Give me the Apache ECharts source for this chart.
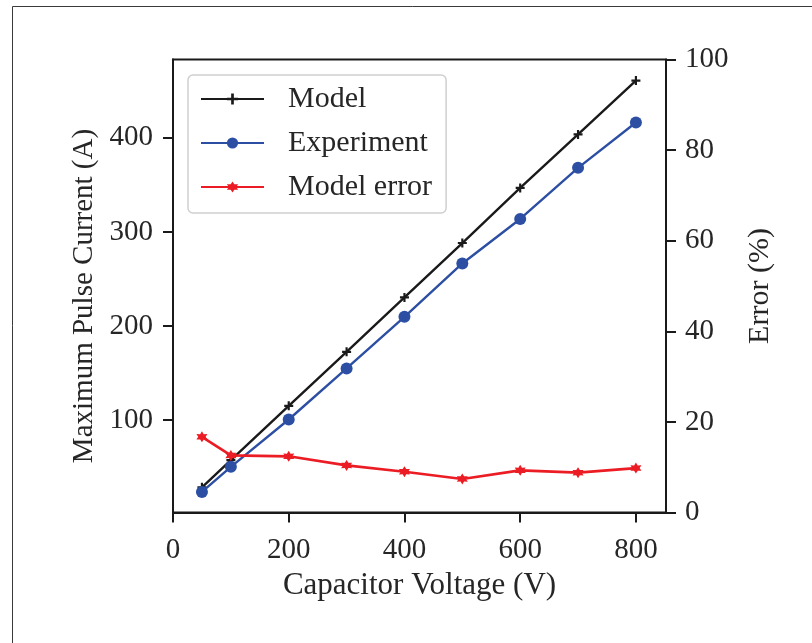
<!DOCTYPE html>
<html>
<head>
<meta charset="utf-8">
<script src="https://cdn.jsdelivr.net/npm/echarts@6/dist/echarts.min.js"></script>
<style>
  html, body { margin: 0; padding: 0; background: #ffffff; }
  #chart { width: 812px; height: 643px; }
</style>
</head>
<body>
<div id="chart"></div>
<script>
// Capacitor voltage (V) for each measurement
const voltage = [50, 100, 200, 300, 400, 500, 600, 700, 800];
// Maximum pulse current (A)
const modelCurrent = [28.6, 57.6, 115.2, 172.6, 230.4, 288.2, 346.8, 403.6, 460.8];
const experimentCurrent = [23.8, 50.4, 100.7, 155.0, 209.8, 266.5, 313.8, 368.1, 416.2];
// Relative model error (%)
const modelError = [16.7, 12.6, 12.4, 10.4, 9.0, 7.4, 9.3, 8.8, 9.8];

// Tick values
const xTicks = [0, 200, 400, 600, 800];
const currentTicks = [100, 200, 300, 400];

const pair = (xs, ys) => xs.map((x, i) => [x, ys[i]]);

const FONT = '"Liberation Serif", "DejaVu Serif", serif';
const INK = '#1a1a1a';
const TXT = '#262626';

const plusPath = 'path://M-1.2,-5H1.2V-1.2H5V1.2H1.2V5H-1.2V1.2H-5V-1.2H-1.2Z';
const starPath = 'path://M0,-5L1.4,-2.4L4.3,-2.5L2.9,0L4.3,2.5L1.4,2.4L0,5L-1.4,2.4L-4.3,2.5L-2.9,0L-4.3,-2.5L-1.4,-2.4Z';

const chart = echarts.init(document.getElementById('chart'), null, { renderer: 'canvas' });

chart.setOption({
  backgroundColor: '#ffffff',
  animation: false,
  textStyle: { fontFamily: FONT, color: TXT },
  graphic: [{
    type: 'rect',
    silent: true,
    shape: { x: 12.5, y: 6.5, width: 900, height: 800 },
    style: { fill: 'none', stroke: '#3a3a3a', lineWidth: 1 }
  }],
  grid: {
    left: 173, right: 146, top: 59.5, bottom: 130.5,
    show: true, borderColor: INK, borderWidth: 2, backgroundColor: 'transparent'
  },
  legend: {
    left: 188, top: 75,
    orient: 'vertical',
    padding: [7, 14, 9, 12],
    itemWidth: 63, itemHeight: 14, itemGap: 10,
    backgroundColor: 'rgba(255,255,255,0.85)',
    borderColor: '#cfcfcf', borderWidth: 1.5, borderRadius: 5,
    selectedMode: false,
    textStyle: { fontFamily: FONT, fontSize: 30, color: TXT, lineHeight: 34, padding: [0, 0, 0, 19] },
    data: ['Model', 'Experiment', 'Model error']
  },
  xAxis: {
    type: 'value', min: 0, max: 852,
    name: 'Capacitor Voltage (V)', nameLocation: 'middle', nameGap: 58,
    nameTextStyle: { fontFamily: FONT, fontSize: 31, color: TXT },
    axisLine: { show: true, lineStyle: { color: INK, width: 2 } },
    axisTick: { show: true, length: 10, lineStyle: { color: INK, width: 2 }, customValues: xTicks },
    axisLabel: { fontFamily: FONT, fontSize: 29, color: TXT, margin: 23, customValues: xTicks },
    splitLine: { show: false }
  },
  yAxis: [{
    type: 'value', min: 1.9, max: 483.2, position: 'left',
    name: 'Maximum Pulse Current (A)', nameLocation: 'middle', nameGap: 70, nameRotate: 90,
    nameTextStyle: { fontFamily: FONT, fontSize: 29, color: TXT, padding: [0, 20, 0, 0] },
    axisLine: { show: true, lineStyle: { color: INK, width: 2 } },
    axisTick: { show: true, length: 10, lineStyle: { color: INK, width: 2 }, customValues: currentTicks },
    axisLabel: { fontFamily: FONT, fontSize: 29, color: TXT, margin: 20, customValues: currentTicks },
    splitLine: { show: false }
  }, {
    type: 'value', min: 0, max: 100, interval: 20, position: 'right',
    name: 'Error (%)', nameLocation: 'middle', nameGap: 79, nameRotate: 90,
    nameTextStyle: { fontFamily: FONT, fontSize: 30, color: TXT },
    axisLine: { show: true, lineStyle: { color: INK, width: 2 } },
    axisTick: { show: true, length: 10, lineStyle: { color: INK, width: 2 } },
    axisLabel: { fontFamily: FONT, fontSize: 29, color: TXT, margin: 19 },
    splitLine: { show: false }
  }],
  series: [{
    name: 'Model', type: 'line', yAxisIndex: 0,
    data: pair(voltage, modelCurrent),
    symbol: plusPath, symbolSize: 9, showAllSymbol: true,
    lineStyle: { color: INK, width: 2.4 },
    itemStyle: { color: INK },
    z: 2
  }, {
    name: 'Experiment', type: 'line', yAxisIndex: 0,
    data: pair(voltage, experimentCurrent),
    symbol: 'circle', symbolSize: 12, showAllSymbol: true,
    lineStyle: { color: '#2c4fa3', width: 2.4 },
    itemStyle: { color: '#2c4fa3' },
    z: 3
  }, {
    name: 'Model error', type: 'line', yAxisIndex: 1,
    data: pair(voltage, modelError),
    symbol: starPath, symbolSize: 11, showAllSymbol: true,
    lineStyle: { color: '#ec1c24', width: 2.6 },
    itemStyle: { color: '#ec1c24' },
    z: 4
  }]
});
</script>
</body>
</html>
